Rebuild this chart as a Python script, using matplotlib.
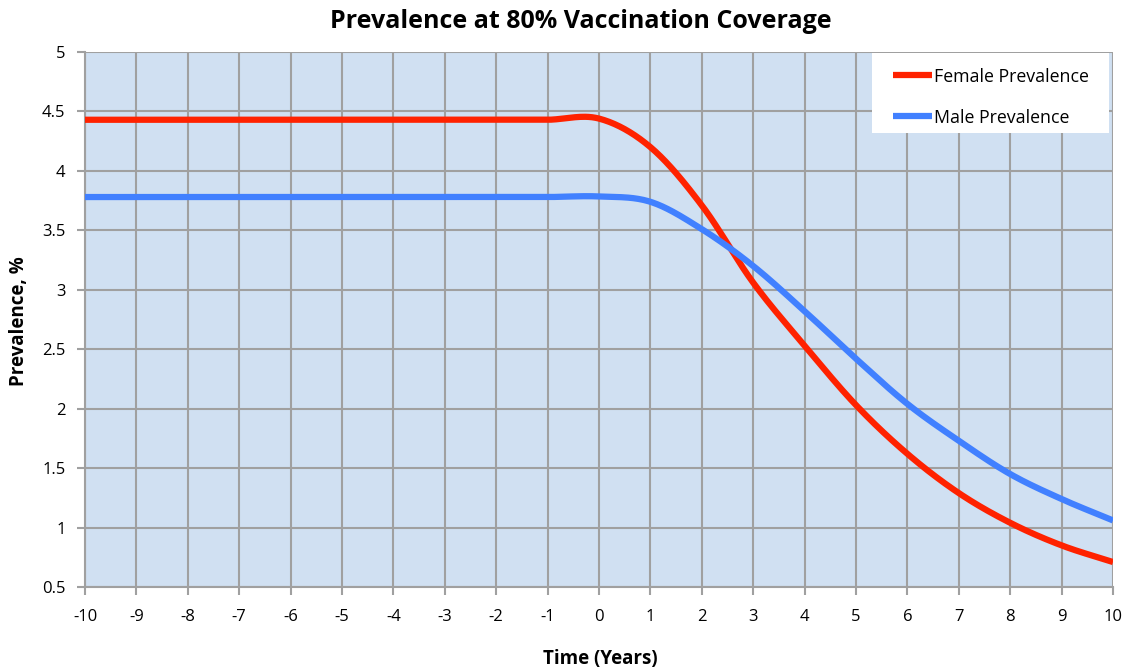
import numpy as np
import matplotlib
matplotlib.use("Agg")
import matplotlib.pyplot as plt
from matplotlib.patches import Rectangle

years = list(range(-10, 11))
female_prevalence = [4.43, 4.43, 4.43, 4.43, 4.43, 4.43, 4.43, 4.43, 4.43, 4.43, 4.44,
                     4.20, 3.71, 3.06, 2.53, 2.03, 1.62, 1.29, 1.04, 0.85, 0.71]
male_prevalence = [3.78, 3.78, 3.78, 3.78, 3.78, 3.78, 3.78, 3.78, 3.78, 3.78, 3.785,
                   3.74, 3.51, 3.20, 2.82, 2.42, 2.04, 1.73, 1.45, 1.24, 1.06]
y_ticks = [0.5, 1, 1.5, 2, 2.5, 3, 3.5, 4, 4.5, 5]
y_tick_labels = ["0.5", "1", "1.5", "2", "2.5", "3", "3.5", "4", "4.5", "5"]


def smooth(x, y, n=30):
    """Catmull-Rom spline through the points, like a smoothed spreadsheet line."""
    x = np.asarray(x, float)
    y = np.asarray(y, float)
    xs, ys = [], []
    for i in range(len(x) - 1):
        x0, x1 = x[i], x[i + 1]
        y0, y1 = y[i], y[i + 1]
        m0 = (y[i + 1] - y[i - 1]) / 2 if i > 0 else (y1 - y0)
        m1 = (y[i + 2] - y[i]) / 2 if i + 2 < len(y) else (y1 - y0)
        t = np.linspace(0, 1, n, endpoint=False)
        h00 = 2 * t**3 - 3 * t**2 + 1
        h10 = t**3 - 2 * t**2 + t
        h01 = -2 * t**3 + 3 * t**2
        h11 = t**3 - t**2
        xs.append(x0 + t * (x1 - x0))
        ys.append(h00 * y0 + h10 * m0 + h01 * y1 + h11 * m1)
    xs.append([x[-1]])
    ys.append([y[-1]])
    return np.concatenate(xs), np.concatenate(ys)


plt.rcParams['font.family'] = ['Open Sans', 'DejaVu Sans']

fig = plt.figure(figsize=(11.27, 6.72), dpi=100)
ax = fig.add_axes([85 / 1127, 1 - 587 / 672, (1113 - 85) / 1127, (587 - 52) / 672])
ax.set_facecolor('#D0E0F2')

grid_color = '#A0A0A0'
ax.set_xlim(-10, 10)
ax.set_ylim(0.5, 5)
ax.set_xticks(years)
ax.set_xticklabels([str(v) for v in years])
ax.set_yticks(y_ticks)
ax.set_yticklabels(y_tick_labels)
ax.grid(True, color=grid_color, linewidth=1.5)
ax.set_axisbelow(True)
for side in ['top', 'right']:
    ax.spines[side].set_visible(False)
for side in ['left', 'bottom']:
    ax.spines[side].set_color(grid_color)
    ax.spines[side].set_linewidth(1.5)
ax.tick_params(axis='both', colors=grid_color, width=1.5, length=6,
               labelcolor='black', labelsize=12)
ax.tick_params(axis='x', pad=10)
ax.tick_params(axis='y', pad=8)

fx, fy = smooth(years, female_prevalence)
mx, my = smooth(years, male_prevalence)
ax.plot(fx, fy, color='#FF2200', linewidth=4.5, label='Female Prevalence',
        solid_capstyle='butt', zorder=3)
ax.plot(mx, my, color='#4180FF', linewidth=4.5, label='Male Prevalence',
        solid_capstyle='butt', zorder=3)

# white legend panel in the upper right corner
ax.add_patch(Rectangle((0.7656, 0.8486), 0.2305, 0.1495, transform=ax.transAxes,
                       facecolor='white', edgecolor='none', zorder=4))
leg = ax.legend(loc='upper left', bbox_to_anchor=(0.786, 0.971), frameon=False,
                fontsize=12.75, handlelength=2.2, handletextpad=0.1,
                labelspacing=1.3, borderpad=0.0, borderaxespad=0.0)
leg.set_zorder(5)

fig.text(581 / 1127, 1 - 22 / 672, 'Prevalence at 80% Vaccination Coverage',
         ha='center', va='center', fontsize=18, fontweight='bold')
fig.text(600 / 1127, 1 - 659 / 672, 'Time (Years)', ha='center', va='center',
         fontsize=13.5, fontweight='bold')
fig.text(19 / 1127, 1 - 321 / 672, 'Prevalence, %', ha='center', va='center',
         rotation=90, fontsize=13.5, fontweight='bold')

fig.savefig('out.png', dpi=100)
